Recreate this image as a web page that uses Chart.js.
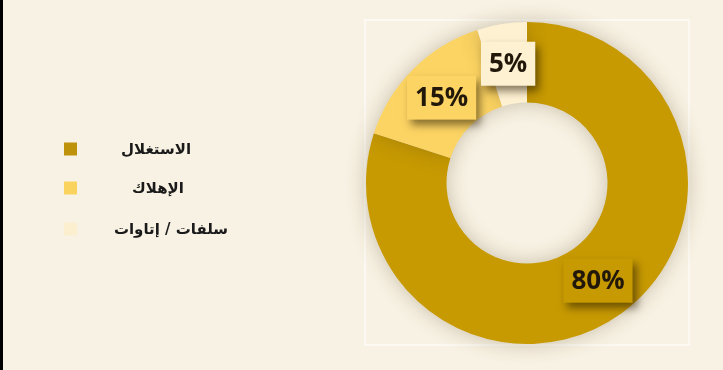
<!DOCTYPE html>
<html>
<head>
<meta charset="utf-8">
<script src="https://cdn.jsdelivr.net/npm/chart.js@4.4.1/dist/chart.umd.min.js"></script>
<style>
  html, body { margin: 0; padding: 0; background: #f8f2e4; }
  #wrap { position: relative; width: 723px; height: 370px; overflow: hidden; }
</style>
</head>
<body>
<div id="wrap">
  <canvas id="chart" width="723" height="370"></canvas>
</div>
<script>
// --- DATA ---
const categories = ["الاستغلال", "الإهلاك", "سلفات / إتاوات"];
const shares = [80, 15, 5];
const sliceColors = ["#c79a02", "#fcd463", "#fdf1d2"];
const legendColors = ["#bf920c", "#f9d35e", "#fcefcf"];

const BG = "#f8f2e4";

// Background, left border bar and the faint frame around the doughnut
const backdrop = {
    id: "backdrop",
    beforeDraw(chart) {
        const c = chart.ctx;
        c.save();
        c.fillStyle = BG;
        c.fillRect(0, 0, chart.width, chart.height);
        c.fillStyle = "#000";
        c.fillRect(0, 0, 3, chart.height);
        const a = chart.chartArea;
        c.strokeStyle = "rgba(255,255,255,0.7)";
        c.lineWidth = 1.5;
        c.strokeRect(a.left - 1, a.top - 2, a.right - a.left + 2, a.bottom - a.top + 3);
        c.restore();
    },
    // soft glow under the ring
    beforeDatasetsDraw(chart) {
        const c = chart.ctx;
        c.save();
        c.shadowColor = "rgba(90,70,30,0.3)";
        c.shadowBlur = 20;
    },
    afterDatasetsDraw(chart) {
        chart.ctx.restore();
    }
};

// Percentage labels in little boxes with a drop shadow
const boxLabels = {
    id: "boxLabels",
    afterDraw(chart) {
        const c = chart.ctx;
        const meta = chart.getDatasetMeta(0);
        c.save();
        c.font = 'bold 26px "Open Sans"';
        c.textAlign = "center";
        c.textBaseline = "middle";
        meta.data.forEach((arc, i) => {
            const p = arc.getCenterPoint();
            const txt = shares[i] + "%";
            const w = c.measureText(txt).width + 16;
            const h = 44;
            c.save();
            c.shadowColor = "rgba(40,25,0,0.55)";
            c.shadowBlur = 8;
            c.shadowOffsetX = 4;
            c.shadowOffsetY = 5;
            c.fillStyle = sliceColors[i];
            c.fillRect(p.x - w / 2, p.y - h / 2, w, h);
            c.restore();
            c.fillStyle = "#21180a";
            c.fillText(txt, p.x, p.y + 1);
        });
        c.restore();
    }
};

// Legend on the left
const sideLegend = {
    id: "sideLegend",
    afterDraw(chart) {
        const c = chart.ctx;
        const rows = [149, 188, 229];
        const textX = [156, 158, 171];
        c.save();
        c.font = 'bold 15px "DejaVu Sans"';
        c.textAlign = "center";
        c.textBaseline = "middle";
        categories.forEach((name, i) => {
            c.fillStyle = legendColors[i];
            c.fillRect(64, rows[i] - 6.5, 13, 13);
            c.fillStyle = "#1a1a1a";
            c.fillText(name, textX[i], rows[i] + 1);
        });
        c.restore();
    }
};

new Chart(document.getElementById("chart"), {
    type: "doughnut",
    data: {
        labels: categories,
        datasets: [{
            data: shares,
            backgroundColor: sliceColors,
            borderWidth: 0,
            hoverOffset: 0
        }]
    },
    options: {
        responsive: false,
        animation: false,
        cutout: "50%",
        layout: { padding: { left: 366, right: 35, top: 22, bottom: 26 } },
        plugins: {
            legend: { display: false },
            tooltip: { enabled: false }
        }
    },
    plugins: [backdrop, boxLabels, sideLegend]
});
</script>
</body>
</html>
